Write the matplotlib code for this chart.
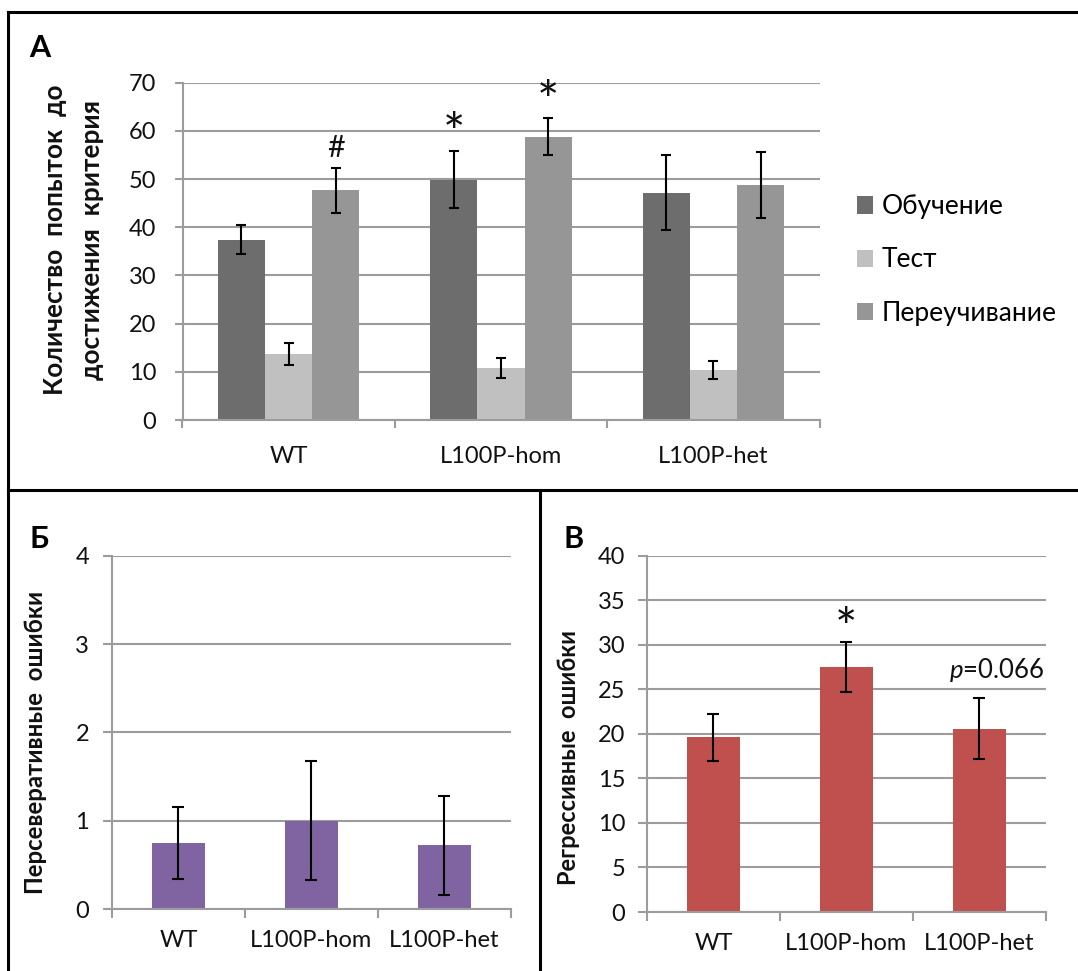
import matplotlib
matplotlib.use("Agg")
import matplotlib.pyplot as plt
from matplotlib.lines import Line2D
from matplotlib.patches import Patch
import numpy as np

plt.rcParams['font.family'] = ['Lato', 'DejaVu Sans']
plt.rcParams['mathtext.fontset'] = 'custom'
plt.rcParams['mathtext.it'] = 'Lato:italic'
plt.rcParams['mathtext.rm'] = 'Lato'

# ---------------- data ----------------
groups = ['WT', 'L100P-hom', 'L100P-het']
series_names = ['Обучение', 'Тест', 'Переучивание']
train_mean = [37.4, 49.9, 47.2]
train_err = [3.0, 6.0, 7.8]
test_mean = [13.7, 10.8, 10.4]
test_err = [2.3, 2.0, 1.8]
retrain_mean = [47.7, 58.8, 48.8]
retrain_err = [4.7, 3.8, 6.8]
marks_A = ['#', '*', '*']        # above retrain WT, train hom, retrain hom

persev_mean = [0.75, 1.0, 0.72]
persev_err = [0.41, 0.67, 0.56]

regr_mean = [19.6, 27.5, 20.6]
regr_err = [2.6, 2.8, 3.4]

# ---------------- styles ----------------
W, H, DPI = 1078, 971, 100
fig = plt.figure(figsize=(W / DPI, H / DPI), dpi=DPI)
GRID = '#9c9c9c'
series_colors = ['#6d6d6d', '#c0c0c0', '#969696']
TICK_FS = 17


def ax_at(left, top, right, bottom):
    return fig.add_axes([left / W, 1 - bottom / H, (right - left) / W, (bottom - top) / H])


def style_axes(ax, ymax, ystep, ypad, xpad, tlen):
    ax.set_xlim(-0.5, 2.5)
    ax.set_ylim(0, ymax)
    ax.set_yticks(np.arange(0, ymax + 0.001, ystep))
    ax.yaxis.grid(True, color=GRID, lw=1.5)
    ax.set_axisbelow(True)
    for s in ['top', 'right']:
        ax.spines[s].set_visible(False)
    for s in ['left', 'bottom']:
        ax.spines[s].set_color(GRID)
        ax.spines[s].set_linewidth(1.5)
    ax.tick_params(axis='y', length=tlen, width=1.5, color=GRID, pad=ypad,
                   labelsize=TICK_FS, labelcolor='#111111')
    ax.set_xticks(range(len(groups)))
    ax.set_xticklabels(groups)
    ax.tick_params(axis='x', which='major', length=0, pad=xpad, labelsize=TICK_FS,
                   labelcolor='#111111')
    ax.set_xticks(np.arange(-0.5, len(groups), 1.0), minor=True)
    ax.tick_params(axis='x', which='minor', length=tlen, width=1.5, color=GRID)


# ---------------- Panel A ----------------
axA = ax_at(182.5, 82.7, 819.6, 420.0)
style_axes(axA, 70, 10, 13, 19, 6)
x = np.arange(len(groups))
bw = 1 / 4.5
means = [train_mean, test_mean, retrain_mean]
errs = [train_err, test_err, retrain_err]
for i, (m, e, c) in enumerate(zip(means, errs, series_colors)):
    axA.bar(x + (i - 1) * bw, m, bw, color=c, label=series_names[i], zorder=2)
    axA.errorbar(x + (i - 1) * bw, m, yerr=e, fmt='none', ecolor='black',
                 elinewidth=1.5, capsize=3.8, capthick=1.5, zorder=3)

# significance marks
axA.text(0 + bw, retrain_mean[0] + retrain_err[0] + 1.2, marks_A[0], ha='center',
         va='bottom', fontsize=22, color='#111111')
axA.text(1 - bw, train_mean[1] + train_err[1] - 2.0, marks_A[1], ha='center',
         va='bottom', fontsize=38, color='#111111')
axA.text(1 + bw, retrain_mean[1] + retrain_err[1] - 2.0, marks_A[2], ha='center',
         va='bottom', fontsize=38, color='#111111')

handles = [Patch(facecolor=c) for c in series_colors]
axA.legend(handles, series_names, loc='center left',
           bbox_to_anchor=(857 / W, 1 - 260 / H), bbox_transform=fig.transFigure,
           frameon=False, fontsize=19, handlelength=0.62, handleheight=0.62,
           handletextpad=0.3, labelspacing=1.07, borderpad=0, borderaxespad=0)

fig.text(74 / W, 1 - 240 / H, 'Количество  попыток  до\nдостижения  критерия',
         rotation=90, ha='center', va='center', fontsize=18.8, fontweight='bold',
         linespacing=1.65, color='#111111')
fig.text(29 / W, 1 - 57 / H, 'А', fontsize=22, fontweight='bold', ha='left',
         va='baseline')

# ---------------- Panel Б ----------------
axB = ax_at(112, 555.7, 510.7, 909)
style_axes(axB, 4, 1, 10, 15, 6.5)
axB.bar(x, persev_mean, 0.4, color='#8064a2', zorder=2)
axB.errorbar(x, persev_mean, yerr=persev_err, fmt='none', ecolor='black',
             elinewidth=1.5, capsize=4.5, capthick=1.5, zorder=3)
fig.text(36 / W, 1 - 742 / H, 'Персеверативные  ошибки', rotation=90, ha='center',
         va='center', fontsize=17.3, fontweight='bold', color='#111111')
fig.text(29 / W, 1 - 548 / H, 'Б', fontsize=22, fontweight='bold', ha='left',
         va='baseline')

# ---------------- Panel В ----------------
axC = ax_at(647, 555.7, 1045.7, 912)
style_axes(axC, 40, 5, 9, 15, 6.5)
axC.bar(x, regr_mean, 0.4, color='#c0504d', zorder=2)
axC.errorbar(x, regr_mean, yerr=regr_err, fmt='none', ecolor='black',
             elinewidth=1.5, capsize=4.5, capthick=1.5, zorder=3)
axC.text(1, regr_mean[1] + regr_err[1] - 1.4, '*', ha='center', va='bottom',
         fontsize=38, color='#111111')
axC.text(2.49, 26.3, r'$\mathit{p}$=0.066', ha='right', va='baseline',
         fontsize=18.5, color='#111111')
fig.text(569 / W, 1 - 757 / H, 'Регрессивные  ошибки', rotation=90, ha='center',
         va='center', fontsize=17, fontweight='bold', color='#111111')
fig.text(563 / W, 1 - 548 / H, 'В', fontsize=22, fontweight='bold', ha='left',
         va='baseline')

# ---------------- frame lines ----------------
def fline(x0, y0, x1, y1):
    fig.add_artist(Line2D([x0 / W, x1 / W], [1 - y0 / H, 1 - y1 / H],
                          color='black', lw=2.2, transform=fig.transFigure))

fline(8, 12, W, 12)
fline(8, 12, 8, H)
fline(8, 490, W, 490)
fline(540, 490, 540, H)

fig.savefig('out.png', dpi=DPI)
